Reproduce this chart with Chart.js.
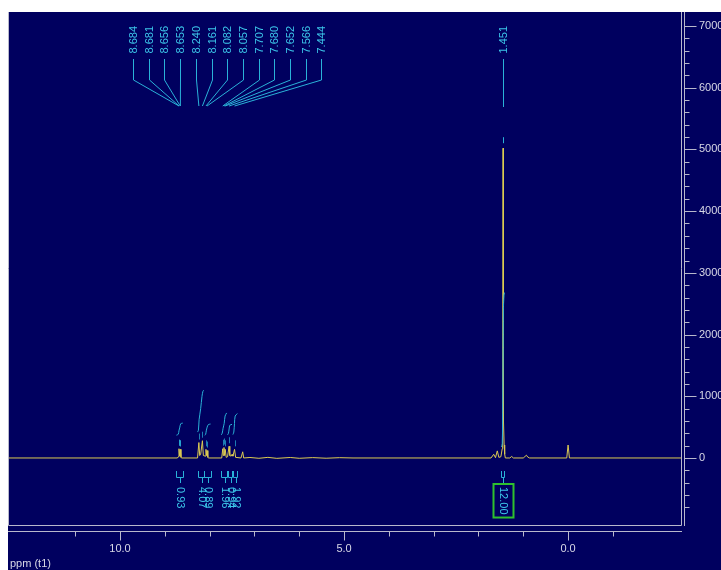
<!DOCTYPE html>
<html><head><meta charset="utf-8">
<script src="https://cdn.jsdelivr.net/npm/chart.js@4.4.0/dist/chart.umd.min.js"></script>
<style>html,body{margin:0;padding:0;background:#fff;overflow:hidden}#wrap{position:relative;width:721px;height:570px}</style>
</head><body><div id="wrap"><canvas id="c"></canvas></div>
<script>
// ---- data ----
const spectrumPpm = [12.50, 8.72, 8.700, 8.684, 8.668, 8.655, 8.640, 8.620,
  8.27, 8.240, 8.222, 8.200, 8.161, 8.140, 8.100, 8.082, 8.070, 8.057, 8.040, 8.020,
  7.73, 7.707, 7.694, 7.680, 7.666, 7.652, 7.630, 7.600, 7.566, 7.550, 7.520, 7.500, 7.480, 7.444, 7.420,
  7.300, 7.262, 7.240, 7.10, 6.90, 6.70, 6.50, 6.20, 6.00, 5.70, 5.40, 5.10, 4.80,
  1.72, 1.66, 1.62, 1.580, 1.545, 1.50, 1.470, 1.460, 1.451, 1.442, 1.427, 1.415, 1.40,
  1.30, 1.26, 1.22, 1.00, 0.96, 0.93, 0.90, 0.86, 0.03, 0.00, -0.03, -2.52];
const spectrumIntensity = [0, 0, 20, 150, 30, 140, 10, 0,
  0, 250, 40, 60, 280, 40, 30, 140, 40, 120, 10, 0,
  0, 150, 40, 170, 40, 140, 10, 20, 190, 40, 30, 60, 30, 140, 10,
  0, 100, 0, 8, -5, 10, -6, 8, -5, 6, -4, 5, 0,
  0, 60, 5, 115, 10, 20, 150, 600, 5020, 600, 210, 60, 0,
  0, 25, 0, 0, 25, 45, 15, 0, 0, 210, 0, 0];

const aromaticPeakPpm = [8.684, 8.681, 8.656, 8.653, 8.240, 8.161, 8.082, 8.057, 7.707, 7.680, 7.652, 7.566, 7.444];
const aromaticPeakTop = [150, 150, 140, 140, 250, 280, 140, 120, 150, 170, 140, 190, 140];
const aliphaticPeakPpm = [1.451];
const aliphaticPeakTop = [5020];

const integralFrom = [8.74, 8.27, 8.12, 7.74, 7.60, 7.48, 1.49];
const integralTo   = [8.60, 8.13, 7.98, 7.62, 7.50, 7.38, 1.42];
const integralValues = ['0.93', '4.07', '0.89', '1.96', '0.94', '1.92', '12.00'];
const integralCurvePpm = [
  [8.74, 8.70, 8.685, 8.665, 8.645, 8.60],
  [8.27, 8.25, 8.235, 8.20, 8.17, 8.15, 8.13],
  [8.11, 8.09, 8.075, 8.055, 8.03, 7.98],
  [7.74, 7.72, 7.70, 7.675, 7.655, 7.62],
  [7.60, 7.58, 7.565, 7.55, 7.50],
  [7.48, 7.46, 7.445, 7.43, 7.38],
  [1.49, 1.47, 1.458, 1.451, 1.444, 1.43, 1.42]
];
const integralCurveValue = [
  [370, 385, 440, 500, 555, 565],
  [420, 450, 620, 800, 1000, 1080, 1100],
  [370, 380, 440, 500, 540, 550],
  [375, 400, 480, 560, 680, 730],
  [375, 400, 470, 530, 545],
  [380, 420, 560, 680, 720],
  [180, 230, 900, 1600, 2400, 2640, 2680]
];
const boxedIntegral = 6;

const xTickMajorStep = 5;
const yTickMajorStep = 1000;
const axisTitle = 'ppm (t1)';

// ---- styling ----
const FONT = '"Liberation Sans", Arial, sans-serif';
const NAVY = '#00005f';
const AXIS = '#b8b8cc';
const LABEL = '#d8d8e6';
const CYAN = '#3cc6ea';
const CYAN_LINE = '#2ab2d8';
const YELLOW = '#dccb52';

const datasets = [{
  data: spectrumPpm.map((p, i) => ({x: p, y: spectrumIntensity[i]})),
  borderColor: YELLOW, borderWidth: 1, pointRadius: 0, fill: false, tension: 0, order: 1
}];
integralCurvePpm.forEach((arr, k) => {
  datasets.push({
    data: arr.map((p, i) => ({x: p, y: integralCurveValue[k][i]})),
    borderColor: CYAN_LINE, borderWidth: 1, pointRadius: 0, fill: false, tension: 0.3, order: 0
  });
});

function seg(ctx, pts) {
  ctx.beginPath();
  ctx.moveTo(pts[0][0], pts[0][1]);
  for (let i = 1; i < pts.length; i++) ctx.lineTo(pts[i][0], pts[i][1]);
  ctx.stroke();
}

const nmrPlugin = {
  id: 'nmr',
  beforeDraw(chart) {
    const c = chart.ctx;
    c.save();
    c.fillStyle = '#ffffff';
    c.fillRect(0, 0, chart.width, chart.height);
    c.fillStyle = NAVY;
    c.fillRect(8, 12, chart.width - 8, chart.height - 12);
    c.restore();
  },
  afterDraw(chart) {
    const ctx = chart.ctx, a = chart.chartArea, xs = chart.scales.x, ys = chart.scales.y;
    ctx.save();
    ctx.lineWidth = 1;
    ctx.strokeStyle = AXIS;
    // frame (left, bottom, right)
    seg(ctx, [[a.left + 0.5, a.top], [a.left + 0.5, a.bottom + 0.5], [a.right + 0.5, a.bottom + 0.5], [a.right + 0.5, a.top]]);
    // right axis
    const ax = a.right + 3.5;
    seg(ctx, [[ax, a.top], [ax, a.bottom + 1]]);
    ys.ticks.forEach(t => {
      if (t.value % 200 !== 0) return;
      const y = Math.round(ys.getPixelForValue(t.value)) + 0.5;
      const len = t.value % yTickMajorStep === 0 ? 12 : 5;
      seg(ctx, [[ax, y], [ax + len, y]]);
    });
    // bottom axis
    const by = a.bottom + 6.5;
    seg(ctx, [[a.left, by], [a.right + 1, by]]);
    xs.ticks.forEach(t => {
      if (!Number.isInteger(t.value)) return;
      const x = Math.round(xs.getPixelForValue(t.value)) + 0.5;
      const len = t.value % xTickMajorStep === 0 ? 9 : 5;
      seg(ctx, [[x, by], [x, by + len]]);
    });
    // axis title
    ctx.fillStyle = LABEL;
    ctx.font = '11px ' + FONT;
    ctx.textAlign = 'left';
    ctx.textBaseline = 'middle';
    ctx.fillText(axisTitle, 10, 564);

    // peak labels
    ctx.font = '11px ' + FONT;
    const drawLabel = (txt, x) => {
      ctx.save();
      ctx.translate(x, 26);
      ctx.rotate(-Math.PI / 2);
      ctx.textAlign = 'right';
      ctx.textBaseline = 'middle';
      ctx.fillStyle = CYAN;
      ctx.fillText(txt, 0, 0);
      ctx.restore();
    };
    ctx.strokeStyle = CYAN_LINE;
    const n = aromaticPeakPpm.length, spacing = 15.7;
    const pxs = aromaticPeakPpm.map(p => xs.getPixelForValue(p));
    const mean = pxs.reduce((s, v) => s + v, 0) / n;
    const start = mean + 22 - spacing * (n - 1) / 2;
    aromaticPeakPpm.forEach((p, i) => {
      const lx = Math.round(start + i * spacing) + 0.5;
      drawLabel(p.toFixed(3), lx);
      seg(ctx, [[lx, 59], [lx, 80], [pxs[i], 106]]);
    });
    ctx.globalAlpha = 0.7;
    aromaticPeakPpm.forEach((p, i) => {
      const px = Math.round(pxs[i]) + 0.5;
      const yt = ys.getPixelForValue(aromaticPeakTop[i]);
      seg(ctx, [[px, yt - 9], [px, yt - 3]]);
    });
    ctx.globalAlpha = 1;
    aliphaticPeakPpm.forEach((p, i) => {
      const px = Math.round(xs.getPixelForValue(p)) + 0.5;
      drawLabel(p.toFixed(3), px);
      seg(ctx, [[px, 59], [px, 107]]);
      const yt = ys.getPixelForValue(aliphaticPeakTop[i]);
      seg(ctx, [[px, yt - 11], [px, yt - 5]]);
    });

    // integral brackets and values
    integralFrom.forEach((f, i) => {
      const x1 = Math.round(xs.getPixelForValue(f)) + 0.5;
      const x2 = Math.round(xs.getPixelForValue(integralTo[i])) + 0.5;
      const cx = Math.round((x1 + x2) / 2) + 0.5;
      ctx.strokeStyle = CYAN_LINE;
      seg(ctx, [[x1, 471], [x1, 477.5], [x2, 477.5], [x2, 471]]);
      seg(ctx, [[cx, 477.5], [cx, 483]]);
      const txt = integralValues[i];
      const w = ctx.measureText(txt).width;
      ctx.save();
      ctx.translate(cx, 487);
      ctx.rotate(Math.PI / 2);
      ctx.textAlign = 'left';
      ctx.textBaseline = 'middle';
      ctx.fillStyle = CYAN;
      ctx.fillText(txt, 0, 0);
      ctx.restore();
      if (i === boxedIntegral) {
        ctx.strokeStyle = '#2ec02e';
        ctx.lineWidth = 2;
        ctx.strokeRect(cx - 10, 484, 20, w + 6);
        ctx.lineWidth = 1;
      }
    });
    ctx.restore();
  }
};

const noPad = s => { s.paddingLeft = 0; s.paddingRight = 0; s.paddingTop = 0; s.paddingBottom = 0; };

new Chart(document.getElementById('c'), {
  type: 'line',
  data: {datasets},
  options: {
    responsive: true, maintainAspectRatio: false, animation: false, devicePixelRatio: 1,
    layout: {padding: {left: 8, top: 12, right: 0, bottom: 0}},
    plugins: {legend: {display: false}, tooltip: {enabled: false}},
    scales: {
      x: {
        type: 'linear', reverse: true, min: -2.52, max: 12.5, position: 'bottom',
        grid: {display: false, drawTicks: false}, border: {display: false},
        ticks: {
          stepSize: 1, autoSkip: false, maxRotation: 0, minRotation: 0, padding: 17,
          color: LABEL, font: {size: 11, family: FONT},
          callback: v => (Number.isInteger(v) && v % xTickMajorStep === 0) ? Number(v).toFixed(1) : ''
        },
        afterFit(s) { s.height = 45; noPad(s); }
      },
      y: {
        type: 'linear', position: 'right', min: -1086, max: 7227,
        grid: {display: false, drawTicks: false}, border: {display: false},
        ticks: {
          stepSize: 200, autoSkip: false, padding: 18,
          color: LABEL, font: {size: 11, family: FONT},
          callback: v => (v % yTickMajorStep === 0) ? String(v) : ''
        },
        afterFit(s) { s.width = 40; noPad(s); }
      }
    }
  },
  plugins: [nmrPlugin]
});
</script>
</body></html>
